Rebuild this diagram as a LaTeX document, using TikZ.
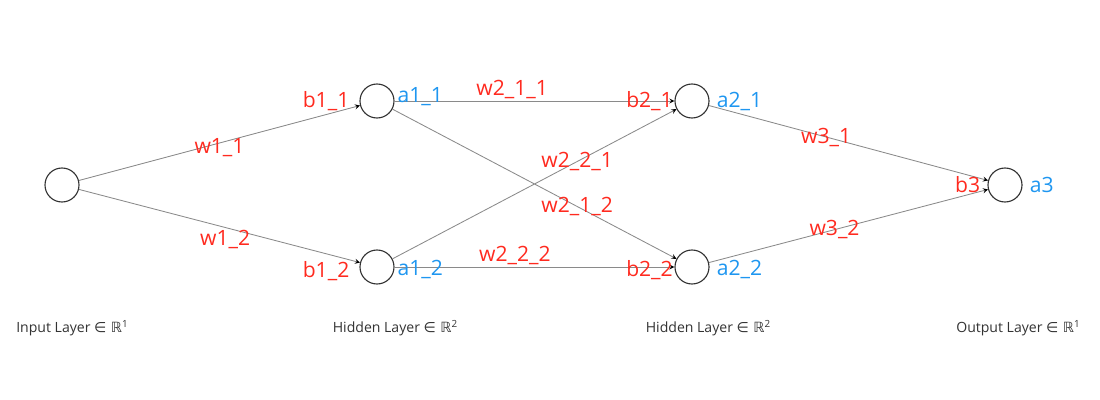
\documentclass[tikz,border=0pt]{standalone}
\usepackage{fontspec}
\setmainfont{Open Sans}
\newfontfamily\symfont{DejaVu Sans}
\usetikzlibrary{arrows,positioning}
\definecolor{wred}{HTML}{FF2A1F}
\definecolor{ablue}{HTML}{1E96F0}
\definecolor{edgegray}{HTML}{8A8A8A}
\newcommand{\layerin}[1]{~{\symfont ∈ ℝ}\raisebox{0.6ex}{\scriptsize #1}}

\begin{document}
\begin{tikzpicture}[x=0.025cm, y=-0.025cm, node distance=2pt,
    neuron/.style={circle, draw=black!80, line width=0.8pt, minimum size=0.85cm, inner sep=0pt},
    wlab/.style={text=wred, font=\fontsize{15}{17}\selectfont, inner sep=1pt},
    blab/.style={text=wred, font=\fontsize{15}{17}\selectfont, inner sep=0pt},
    alab/.style={text=ablue, font=\fontsize{15}{17}\selectfont, inner sep=0pt},
    layer/.style={text=black!80, font=\fontsize{10}{12}\selectfont},
    conn/.style={->, >=stealth, draw=edgegray, line width=0.6pt}]
    \useasboundingbox (0,0) rectangle (1100,400);
    % neurons
    \node[neuron] (x) at (62,185) {};
    \node[neuron] (h11) at (377,101) {};
    \node[neuron] (h12) at (377,267) {};
    \node[neuron] (h21) at (692,101) {};
    \node[neuron] (h22) at (692,267) {};
    \node[neuron] (y) at (1005,185) {};
    % weights
    \path[conn] (x) edge node[wlab, pos=0.5, yshift=-1.2mm] {w1\_1} (h11);
    \path[conn] (x) edge node[wlab, pos=0.52, yshift=-3mm] {w1\_2} (h12);
    \path[conn] (h11) edge node[wlab, pos=0.42, above] {w2\_1\_1} (h21);
    \path[conn] (h11) edge node[wlab, pos=0.65] {w2\_1\_2} (h22);
    \path[conn] (h12) edge node[wlab, pos=0.65] {w2\_2\_1} (h21);
    \path[conn] (h12) edge node[wlab, pos=0.43, above] {w2\_2\_2} (h22);
    \path[conn] (h21) edge node[wlab, pos=0.42] {w3\_1} (y);
    \path[conn] (h22) edge node[wlab, pos=0.45] {w3\_2} (y);
    % biases and activations
    \node[blab, left=7pt of h11] (b11) {b1\_1};
    \node[blab, left=7pt of h12, yshift=-3pt] (b12) {b1\_2};
    \node[blab, left=1pt of h21] (b21) {b2\_1};
    \node[blab, left=1pt of h22, yshift=-2pt] (b22) {b2\_2};
    \node[blab, left=5pt of y] (b3) {b3};
    \node[alab, right=2pt of h11, yshift=3pt] (a11) {a1\_1};
    \node[alab, right=2pt of h12, yshift=-2pt] (a12) {a1\_2};
    \node[alab, right=5pt of h21] (a21) {a2\_1};
    \node[alab, right=5pt of h22, yshift=-2pt] (a22) {a2\_2};
    \node[alab, right=5pt of y] (a3) {a3};
    % layers
    \node[layer] (l0) at (72,328) {Input Layer\layerin{1}};
    \node[layer] (l1) at (395,328) {Hidden Layer\layerin{2}};
    \node[layer] (l2) at (708,328) {Hidden Layer\layerin{2}};
    \node[layer] (l3) at (1018,328) {Output Layer\layerin{1}};
\end{tikzpicture}
\end{document}
